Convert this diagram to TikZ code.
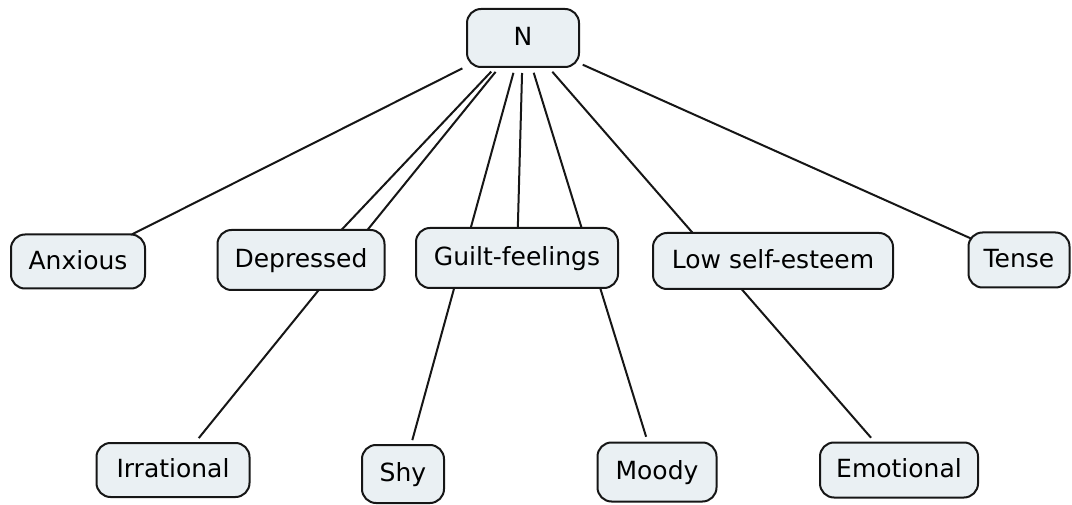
\documentclass[tikz,border=0pt]{standalone}
\usepackage{fontspec}
\setmainfont{DejaVu Sans}
\usetikzlibrary{backgrounds}
\definecolor{conceptfill}{RGB}{234,240,243}
\definecolor{inkline}{RGB}{22,22,22}
\begin{document}
\begin{tikzpicture}[x=1pt,y=-1pt,
  concept/.style={draw=inkline, line width=2pt, fill=conceptfill,
    rounded corners=14pt, inner sep=0pt,
    font=\fontsize{25}{30}\selectfont, text height=18.2pt, text depth=2.5pt},
  link/.style={draw=inkline, line width=2pt}]
\useasboundingbox (0,0) rectangle (1072,505);

% root concept
\node[concept, minimum width=112pt, minimum height=58pt] (N) at (523,38) {N};

% second row
\node[concept, minimum width=134pt, minimum height=54pt] (anx) at (78,261.5) {Anxious};
\node[concept, minimum width=167pt, minimum height=60pt] (dep) at (301,260) {Depressed};
\node[concept, minimum width=202pt, minimum height=60pt] (guilt) at (517,258) {Guilt-feelings};
\node[concept, minimum width=240pt, minimum height=56pt] (lse) at (773,261) {Low self-esteem};
\node[concept, minimum width=101pt, minimum height=55pt] (tense) at (1019,260) {Tense};

% bottom row
\node[concept, minimum width=153pt, minimum height=54pt] (irr) at (173,470) {Irrational};
\node[concept, minimum width=82pt, minimum height=58pt] (shy) at (403,474) {Shy};
\node[concept, minimum width=119pt, minimum height=59pt] (moody) at (657,472) {Moody};
\node[concept, minimum width=158pt, minimum height=55pt] (emo) at (899,470) {Emotional};

% connectors run underneath the boxes
\begin{scope}[on background layer]
  \draw[link, shorten <=4pt] (N) -- (anx.center);
  \draw[link, shorten <=5pt] (N) -- ([xshift=12pt]dep.center);
  \draw[link, shorten <=5pt] (N) -- (guilt.center);
  \draw[link, shorten <=3pt] (N) -- (tense.center);
  \draw[link, shorten <=5pt, shorten >=5pt] (N) -- (irr);
  \draw[link, shorten <=5pt, shorten >=4pt] (N) -- (shy);
  \draw[link, shorten <=5pt, shorten >=5pt] (N) -- (moody);
  \draw[link, shorten <=5pt, shorten >=5pt] (N) -- (emo);
\end{scope}
\end{tikzpicture}
\end{document}
